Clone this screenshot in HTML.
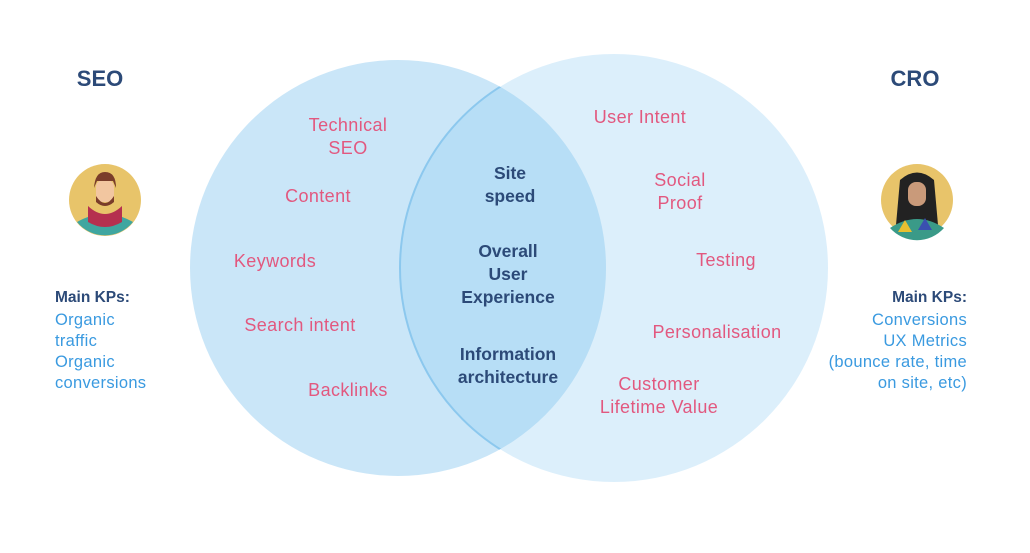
<!DOCTYPE html>
<html><head><style>
html,body{margin:0;padding:0;background:#fff;}
svg{display:block;font-family:"Liberation Sans",sans-serif;}
.p{fill:#e2587f;font-size:18px;letter-spacing:0.4px;}
.d{fill:#2c4a78;font-size:17.5px;font-weight:bold;}
.h{fill:#2c4a78;font-size:22px;font-weight:bold;}
.k{fill:#2c4a78;font-size:15.5px;font-weight:bold;}
.b{fill:#3a9ae0;font-size:16.5px;letter-spacing:0.3px;}
</style></head><body>
<svg width="1030" height="553" viewBox="0 0 1030 553">
<defs><clipPath id="c"><circle cx="398" cy="268" r="208"/></clipPath></defs>
<circle cx="398" cy="268" r="208" fill="#9fd2f2" fill-opacity="0.55"/>
<circle cx="614" cy="268" r="214" fill="#bfe2f8" fill-opacity="0.55"/>
<circle cx="614" cy="268" r="214" fill="#8fcbf0" fill-opacity="0.25" clip-path="url(#c)" stroke="#8cc8ee" stroke-width="2"/>
<text class="h" x="100" y="86" text-anchor="middle">SEO</text>
<text class="h" x="915" y="86" text-anchor="middle">CRO</text>
<circle cx="105" cy="200" r="36" fill="#e8c46a"/>
<path d="M77 222 Q105 206 133 222 A36 36 0 0 1 77 222Z" fill="#3fa6a0"/>
<path d="M88 206 Q105 222 122 206 L122 222 Q105 232 88 222Z" fill="#b5304f"/>
<rect x="96" y="180" width="18" height="22" rx="7" fill="#f2c6a0"/>
<path d="M94 188 Q95 172 105 172 Q116 172 116 188 L113 181 L97 181Z" fill="#7a3d2a"/>
<path d="M96 196 Q105 210 114 196 L114 202 Q105 210 96 202Z" fill="#7a3d2a"/>
<circle cx="917" cy="200" r="36" fill="#e8c46a"/>
<path d="M900 180 Q917 165 934 180 L938 225 L896 225Z" fill="#222"/>
<path d="M890 228 Q917 210 944 228 A36 36 0 0 1 890 228Z" fill="#3a9a88"/>
<path d="M905 220 L912 232 L898 232Z" fill="#e8c030"/><path d="M925 218 L932 230 L918 230Z" fill="#3a50b0"/>
<rect x="908" y="182" width="18" height="24" rx="8" fill="#c99a7a"/>
<text class="k" x="55" y="302">Main KPs:</text>
<text class="b" x="55" y="325">Organic</text>
<text class="b" x="55" y="346">traffic</text>
<text class="b" x="55" y="367">Organic</text>
<text class="b" x="55" y="388">conversions</text>
<text class="k" x="967" y="302" text-anchor="end">Main KPs:</text>
<text class="b" x="967" y="325" text-anchor="end">Conversions</text>
<text class="b" x="967" y="346" text-anchor="end">UX Metrics</text>
<text class="b" x="967" y="367" text-anchor="end">(bounce rate, time</text>
<text class="b" x="967" y="388" text-anchor="end">on site, etc)</text>
<text class="p" x="348" y="131" text-anchor="middle">Technical</text>
<text class="p" x="348" y="154" text-anchor="middle">SEO</text>
<text class="p" x="318" y="202" text-anchor="middle">Content</text>
<text class="p" x="275" y="267" text-anchor="middle">Keywords</text>
<text class="p" x="300" y="331" text-anchor="middle">Search intent</text>
<text class="p" x="348" y="396" text-anchor="middle">Backlinks</text>
<text class="d" x="510" y="179" text-anchor="middle">Site</text>
<text class="d" x="510" y="202" text-anchor="middle">speed</text>
<text class="d" x="508" y="257" text-anchor="middle">Overall</text>
<text class="d" x="508" y="280" text-anchor="middle">User</text>
<text class="d" x="508" y="303" text-anchor="middle">Experience</text>
<text class="d" x="508" y="360" text-anchor="middle">Information</text>
<text class="d" x="508" y="383" text-anchor="middle">architecture</text>
<text class="p" x="640" y="123" text-anchor="middle">User Intent</text>
<text class="p" x="680" y="186" text-anchor="middle">Social</text>
<text class="p" x="680" y="209" text-anchor="middle">Proof</text>
<text class="p" x="726" y="266" text-anchor="middle">Testing</text>
<text class="p" x="717" y="338" text-anchor="middle">Personalisation</text>
<text class="p" x="659" y="390" text-anchor="middle">Customer</text>
<text class="p" x="659" y="413" text-anchor="middle">Lifetime Value</text>
</svg>
</body></html>
